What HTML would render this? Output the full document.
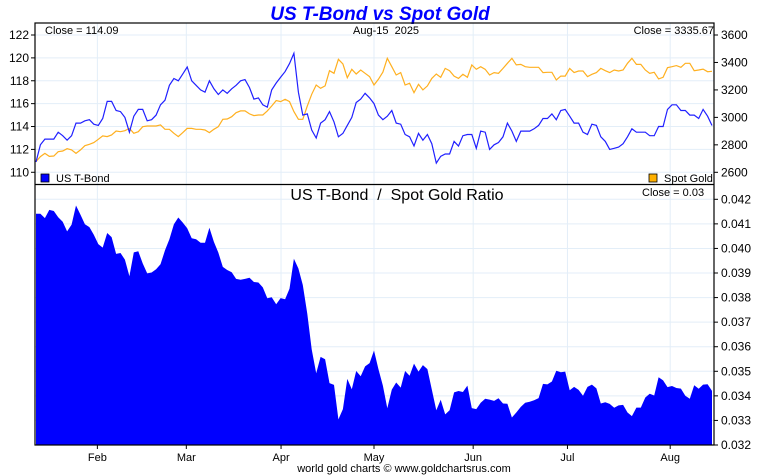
<!DOCTYPE html>
<html><head><meta charset="utf-8"><style>
body{margin:0;background:#fff;}
svg{display:block;font-family:"Liberation Sans",sans-serif;}
svg text{white-space:pre;}
</style></head><body>
<svg id="c" width="760" height="475" viewBox="0 0 760 475">
<text x="380" y="20" text-anchor="middle" font-size="19" font-weight="bold" font-style="italic" fill="#0000ff">US T-Bond vs Spot Gold</text>
<g id="grid"></g>
<g id="marks"></g>
<g id="axes"></g>
<rect x="35" y="23" width="679" height="422" fill="none" stroke="#000" stroke-width="1.2"/>
<line x1="35" y1="184.5" x2="714" y2="184.5" stroke="#000" stroke-width="1.2"/>
<text x="45" y="34" font-size="11">Close = 114.09</text>
<text x="353" y="34" font-size="11" xml:space="preserve">Aug-15  2025</text>
<text x="714" y="34" font-size="11" text-anchor="end">Close = 3335.67</text>
<rect x="41" y="174" width="8" height="8" fill="#0000ff" stroke="#000" stroke-width="0.8"/>
<text x="56" y="182" font-size="11">US T-Bond</text>
<rect x="649" y="174" width="8" height="8" fill="#ffb000" stroke="#000" stroke-width="0.8"/>
<text x="664" y="182" font-size="11">Spot Gold</text>
<text x="397" y="200" font-size="16" text-anchor="middle" xml:space="preserve">US T-Bond  /  Spot Gold Ratio</text>
<text x="642" y="196" font-size="11">Close = 0.03</text>
<text x="404" y="472" font-size="11" text-anchor="middle">world gold charts © www.goldchartsrus.com</text>
</svg>
<script>
const tbond=[110.9,112.4,112.9,112.9,112.9,113.5,113.2,112.8,113.2,114.3,114.3,114.5,114.6,114.2,114.1,114.7,116.2,116.2,115.4,115.3,114.8,113.5,114.9,115.5,115.5,114.5,114.6,115.0,115.9,116.3,117.6,118.2,118.0,118.6,119.2,118.0,117.6,117.2,117.0,118.0,117.3,116.8,117.2,116.9,117.3,117.6,118.0,118.1,117.4,116.4,116.5,115.9,115.7,117.2,117.8,118.3,118.8,119.5,120.4,117.0,115.0,115.1,113.7,113.0,114.3,114.6,115.3,114.4,113.1,113.4,114.1,114.8,116.1,116.4,116.9,116.5,116.0,115.0,
114.6,114.9,115.4,114.3,114.2,113.3,113.1,112.3,113.4,112.8,113.3,112.5,110.8,111.4,111.6,111.6,112.7,112.3,113.2,113.3,113.3,112.1,113.6,113.5,112.0,112.4,112.6,113.1,114.3,113.6,112.7,113.6,113.6,113.6,113.8,114.1,114.7,114.7,115.1,114.6,115.4,115.5,114.9,114.3,114.3,113.5,113.3,114.2,114.1,113.1,112.7,112.0,112.1,112.2,112.5,113.1,113.8,113.5,113.5,113.5,113.2,113.2,114.0,114.0,115.5,115.9,115.9,115.4,115.4,115.0,115.0,114.7,115.5,114.9,114.09];
const gold=[2678,2714,2738,2716,2719,2750,2755,2772,2763,2738,2763,2794,2804,2816,2840,2865,2860,2872,2901,2896,2903,2920,2884,2896,2932,2937,2937,2937,2945,2913,2913,2884,2860,2889,2920,2920,2913,2913,2908,2889,2913,2932,2986,2988,3005,3034,3047,3047,3025,3013,3017,3017,3047,3083,3122,3115,3132,3115,3042,2986,2986,3083,3168,3236,3212,3229,3340,3321,3423,3389,3289,3350,3316,3345,3321,3297,3236,3277,
3330,3430,3369,3309,3326,3236,3248,3180,3241,3200,3229,3284,3316,3292,3357,3340,3301,3284,3314,3292,3382,3350,3369,3350,3309,3326,3321,3357,3394,3430,3382,3386,3369,3365,3365,3365,3326,3328,3328,3272,3301,3301,3357,3326,3338,3338,3297,3314,3326,3357,3340,3326,3345,3338,3345,3394,3430,3386,3386,3345,3321,3328,3280,3292,3362,3369,3377,3365,3394,3394,3340,3345,3352,3333,3335.67];
const leftTicks=[110,112,114,116,118,120,122];
const rightTicks=[2600,2800,3000,3200,3400,3600];
const ratioTicks=[0.032,0.033,0.034,0.035,0.036,0.037,0.038,0.039,0.040,0.041,0.042];
const months=["Feb","Mar","Apr","May","Jun","Jul","Aug"];
const monthIdx=[13.8,33.8,55.1,76.0,98.3,119.5,142.6];

const NS="http://www.w3.org/2000/svg";
const n=tbond.length;
const xs=i=>36+i*(676/(n-1));
const yL=v=>35+(122-v)*11.44;
const yR=v=>35+(3600-v)*0.1373;
const yQ=v=>199.3+(0.042-v)*24570;
function mk(tag,attrs,parent){const e=document.createElementNS(NS,tag);for(const k in attrs)e.setAttribute(k,attrs[k]);document.getElementById(parent).appendChild(e);return e;}

leftTicks.forEach(v=>{
  const g=mk('line',{x1:35,x2:714,y1:yL(v),y2:yL(v),stroke:'#e3eef8'},'grid');
  
  
  const t=mk('line',{x1:31,x2:35,y1:yL(v),y2:yL(v),stroke:'#000'},'axes');
  
  
  const l=mk('text',{x:29,y:yL(v)+4,'font-size':12,'text-anchor':'end'},'axes');l.textContent=v;
  
  
});
rightTicks.forEach(v=>{
  const t=mk('line',{x1:714,x2:718,y1:yR(v),y2:yR(v),stroke:'#000'},'axes');
  
  
  const l=mk('text',{x:721,y:yR(v)+4,'font-size':12},'axes');l.textContent=v;
  
  
});
ratioTicks.forEach(v=>{
  const g=mk('line',{x1:35,x2:714,y1:yQ(v),y2:yQ(v),stroke:'#e3eef8'},'grid');
  
  
  const t=mk('line',{x1:714,x2:718,y1:yQ(v),y2:yQ(v),stroke:'#000'},'axes');
  
  
  const l=mk('text',{x:721,y:yQ(v)+4,'font-size':12},'axes');l.textContent=v.toFixed(3);
  
  
});
months.forEach((m,k)=>{
  const x=xs(monthIdx[k]);
  const g=mk('line',{x1:x,x2:x,y1:23,y2:445,stroke:'#e3eef8'},'grid');
  
  
  const t=mk('line',{x1:x,x2:x,y1:445,y2:449,stroke:'#000'},'axes');
  
  
  const l=mk('text',{x:x,y:461,'font-size':11,'text-anchor':'middle'},'axes');l.textContent=m;
  
  
});
let d='M'+xs(0)+',445';
for(let i=0;i<n;i++)d+=' L'+xs(i).toFixed(1)+','+yQ(tbond[i]/gold[i]).toFixed(1);
d+=' L'+xs(n-1).toFixed(1)+',445 Z';
const area=mk('path',{d:d,fill:'#0000ff'},'marks');


const gp=mk('polyline',{points:gold.map((v,i)=>xs(i).toFixed(1)+','+yR(v).toFixed(1)).join(' '),fill:'none',stroke:'#ffb020','stroke-width':1.2},'marks');


const tp=mk('polyline',{points:tbond.map((v,i)=>xs(i).toFixed(1)+','+yL(v).toFixed(1)).join(' '),fill:'none',stroke:'#2020ff','stroke-width':1.2},'marks');


</script>
</body></html>
